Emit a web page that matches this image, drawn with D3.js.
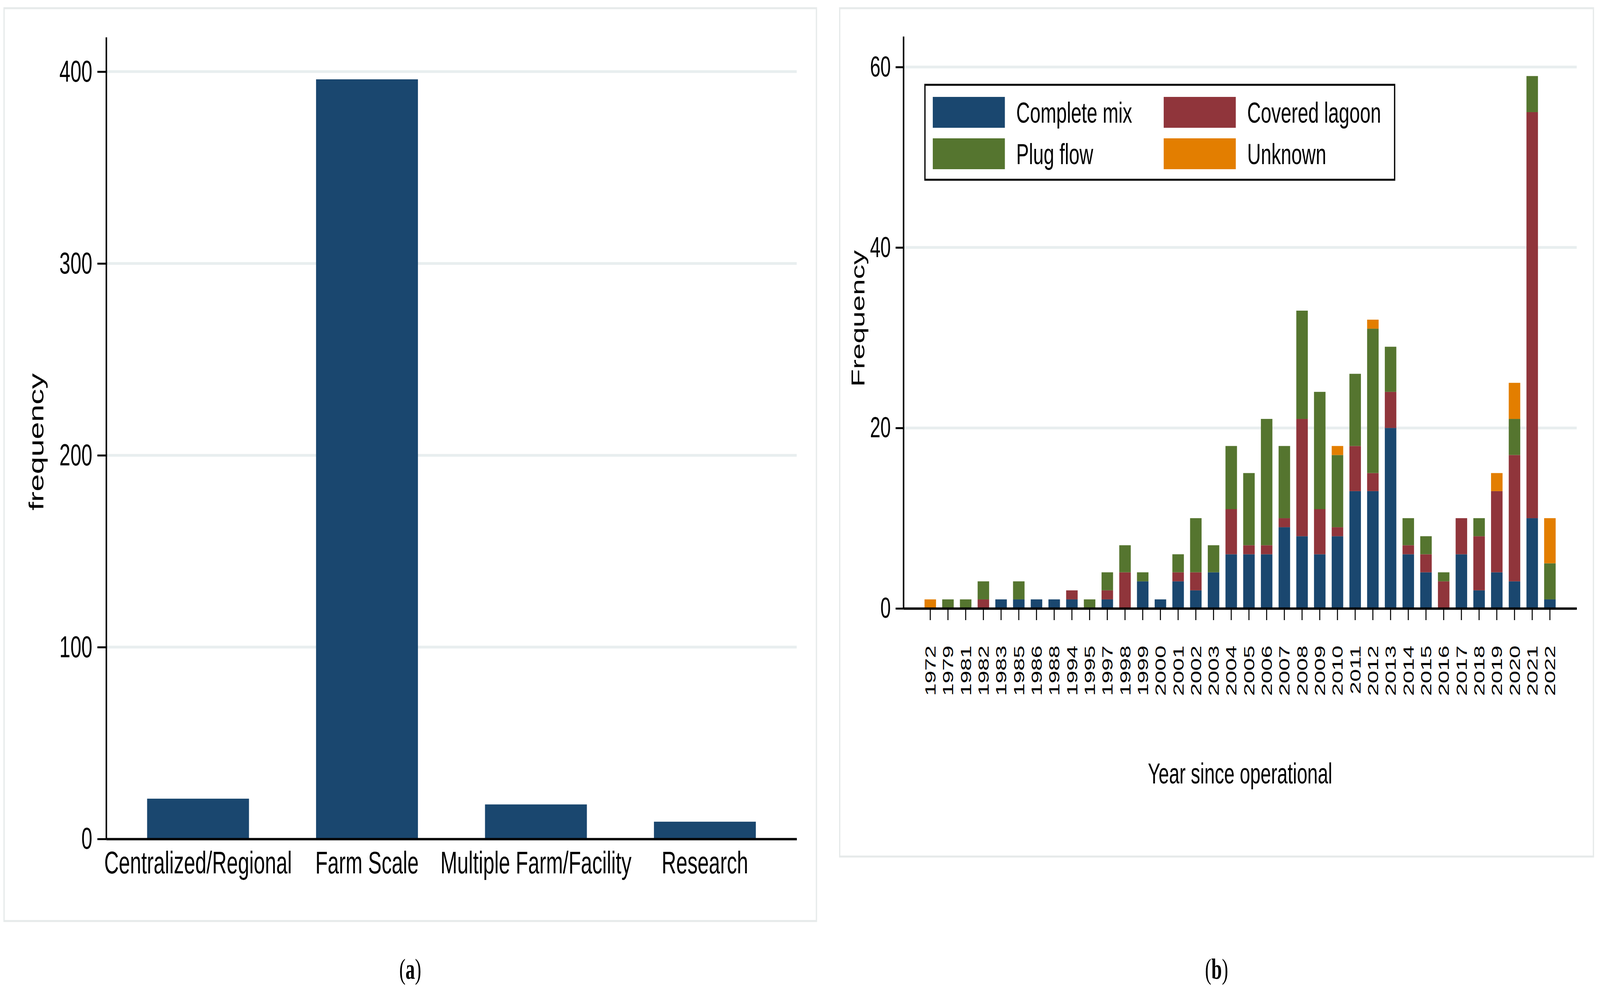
<!DOCTYPE html>
<html lang="en">
<head>
<meta charset="UTF-8">
<title>Digesters by scale and by year</title>
<script src="https://d3js.org/d3.v7.min.js"></script>
<style>
  html, body { margin: 0; padding: 0; background: #fff; overflow: hidden; }
  svg { display: block; }
  text { font-family: "Liberation Sans", Arial, sans-serif; fill: #000; }
</style>
</head>
<body>
<div id="chart"></div>
<script>
// ---- data (a): digesters by scale
var scaleCategories = ["Centralized/Regional", "Farm Scale", "Multiple Farm/Facility", "Research"];
var scaleCounts = [21, 396, 18, 9];
var ticksA = [0, 100, 200, 300, 400];

// ---- data (b): digesters by year since operational, stacked by type
var years = [1972, 1979, 1981, 1982, 1983, 1985, 1986, 1988, 1994, 1995, 1997, 1998, 1999,
  2000, 2001, 2002, 2003, 2004, 2005, 2006, 2007, 2008, 2009, 2010, 2011, 2012, 2013,
  2014, 2015, 2016, 2017, 2018, 2019, 2020, 2021, 2022];
var completeMix   = [0, 0, 0, 0, 1, 1, 1, 1, 1, 0, 1, 0, 3, 1, 3, 2, 4, 6, 6, 6, 9, 8, 6, 8, 13, 13, 20, 6, 4, 0, 6, 2, 4, 3, 10, 1];
var coveredLagoon = [0, 0, 0, 1, 0, 0, 0, 0, 1, 0, 1, 4, 0, 0, 1, 2, 0, 5, 1, 1, 1, 13, 5, 1, 5, 2, 4, 1, 2, 3, 4, 6, 9, 14, 45, 0];
var plugFlow      = [0, 1, 1, 2, 0, 2, 0, 0, 0, 1, 2, 3, 1, 0, 2, 6, 3, 7, 8, 14, 8, 12, 13, 8, 8, 16, 5, 3, 2, 1, 0, 2, 0, 4, 4, 4];
var unknown       = [1, 0, 0, 0, 0, 0, 0, 0, 0, 0, 0, 0, 0, 0, 0, 0, 0, 0, 0, 0, 0, 0, 0, 1, 0, 1, 0, 0, 0, 0, 0, 0, 2, 4, 0, 5];
var seriesNames = ["Complete mix", "Covered lagoon", "Plug flow", "Unknown"];
var ticksB = [0, 20, 40, 60];

// stata s2color
var navy = "#1a476f", maroon = "#90353b", green = "#55752f", orange = "#e37e00";
var seriesColors = [navy, maroon, green, orange];
var gridColor = "#e8eeef";

// drawn in the reference's 6326x2531 frame, then fitted to whatever the window gives
var W = 6326, H = 2531;
var svg = d3.select("#chart").append("svg")
  .attr("width", window.innerWidth).attr("height", window.innerHeight)
  .attr("viewBox", "0 0 " + W + " " + H)
  .attr("preserveAspectRatio", "none");

// outer panel frames
svg.append("rect").attr("x", 16).attr("y", 21).attr("width", 3212).attr("height", 2336)
  .attr("fill", "#fff").attr("stroke", "#e6eaea").attr("stroke-width", 5);
svg.append("rect").attr("x", 3320).attr("y", 21).attr("width", 2980).attr("height", 2171)
  .attr("fill", "#fff").attr("stroke", "#e6eaea").attr("stroke-width", 5);

function styleAxis(g, size) {
  g.attr("font-family", null).attr("font-size", null);
  g.selectAll("text").attr("font-size", size).attr("fill", "#000");
  g.selectAll("line").attr("stroke", "#000").attr("stroke-width", 5);
  g.select(".domain").attr("stroke", "#000").attr("stroke-width", 6);
}

// ================= panel (a) =================
var xA = d3.scaleBand().domain(scaleCategories).range([420, 3150])
  .paddingInner(0.397).paddingOuter(0.242);
var yA = d3.scaleLinear().domain([0, 418]).range([2147, 95]);

var pa = svg.append("g");

pa.append("g").selectAll("line").data(ticksA.filter(function (d) { return d > 0; }))
  .join("line")
  .attr("x1", 420).attr("x2", 3150)
  .attr("y1", function (d) { return yA(d); }).attr("y2", function (d) { return yA(d); })
  .attr("stroke", gridColor).attr("stroke-width", 7);

pa.append("g").selectAll("rect").data(scaleCounts)
  .join("rect")
  .attr("x", function (d, i) { return xA(scaleCategories[i]); })
  .attr("width", xA.bandwidth())
  .attr("y", function (d) { return yA(d); })
  .attr("height", function (d) { return yA(0) - yA(d); })
  .attr("fill", navy);

pa.append("g").attr("transform", "translate(420,0)")
  .call(d3.axisLeft(yA).tickValues(ticksA).tickSize(35).tickPadding(20).tickSizeOuter(0))
  .call(styleAxis, 78);

pa.append("g").attr("transform", "translate(0,2147)")
  .call(d3.axisBottom(xA).tickSize(0).tickPadding(31).tickSizeOuter(0))
  .call(styleAxis, 80);

pa.append("text")
  .attr("transform", "translate(172,1131) rotate(-90)")
  .attr("text-anchor", "middle").attr("font-size", 80)
  .text("frequency");

// ================= panel (b) =================
var table = years.map(function (y, i) {
  return { year: y, "Complete mix": completeMix[i], "Covered lagoon": coveredLagoon[i],
           "Plug flow": plugFlow[i], "Unknown": unknown[i] };
});
var stacked = d3.stack().keys(seriesNames)(table);

var xB = d3.scaleBand().domain(years).range([3572, 6234])
  .paddingInner(0.35).paddingOuter(1.19);
var yB = d3.scaleLinear().domain([0, 63.4]).range([1557, 93]);
var colorB = d3.scaleOrdinal().domain(seriesNames).range(seriesColors);

var pb = svg.append("g");

pb.append("g").selectAll("line").data(ticksB.filter(function (d) { return d > 0; }))
  .join("line")
  .attr("x1", 3572).attr("x2", 6234)
  .attr("y1", function (d) { return yB(d); }).attr("y2", function (d) { return yB(d); })
  .attr("stroke", gridColor).attr("stroke-width", 7);

pb.append("g").selectAll("g").data(stacked)
  .join("g")
  .attr("fill", function (s) { return colorB(s.key); })
  .selectAll("rect").data(function (s) { return s; })
  .join("rect")
  .attr("x", function (d) { return xB(d.data.year); })
  .attr("width", xB.bandwidth())
  .attr("y", function (d) { return yB(d[1]); })
  .attr("height", function (d) { return yB(d[0]) - yB(d[1]); });

pb.append("g").attr("transform", "translate(3572,0)")
  .call(d3.axisLeft(yB).tickValues(ticksB).tickSize(31).tickPadding(19).tickSizeOuter(0))
  .call(styleAxis, 74);

var xAxisB = pb.append("g").attr("transform", "translate(0,1557)")
  .call(d3.axisBottom(xB).tickSize(30).tickSizeOuter(0))
  .call(styleAxis, 58);
xAxisB.selectAll(".tick line").attr("stroke-width", 4);
xAxisB.selectAll("text")
  .attr("transform", "rotate(-90)")
  .attr("text-anchor", "end")
  .attr("x", -95).attr("y", 0).attr("dy", "0.36em");

pb.append("text")
  .attr("transform", "translate(3418,815) rotate(-90)")
  .attr("text-anchor", "middle").attr("font-size", 74)
  .text("Frequency");

pb.append("text")
  .attr("x", 4903).attr("y", 2005)
  .attr("text-anchor", "middle").attr("font-size", 74)
  .text("Year since operational");

// legend
var legend = pb.append("g");
legend.append("rect").attr("x", 3657).attr("y", 217).attr("width", 1857).attr("height", 243)
  .attr("fill", "#fff").attr("stroke", "#000").attr("stroke-width", 5);
var legendCols = [3688, 4601], legendRows = [248, 354];
var items = legend.selectAll("g.item").data(seriesNames).join("g").attr("class", "item")
  .attr("transform", function (d, i) {
    return "translate(" + legendCols[i % 2] + "," + legendRows[Math.floor(i / 2)] + ")";
  });
items.append("rect").attr("width", 285).attr("height", 79)
  .attr("fill", function (d) { return colorB(d); });
items.append("text").attr("x", 330).attr("y", 66).attr("font-size", 75)
  .text(function (d) { return d; });

// panel captions
[["a", 1622], ["b", 4810]].forEach(function (c) {
  var t = svg.append("text").attr("x", c[1]).attr("y", 2505)
    .attr("text-anchor", "middle").attr("font-size", 75)
    .style("font-family", "'Liberation Serif', 'Times New Roman', serif");
  t.append("tspan").text("(");
  t.append("tspan").attr("font-weight", "bold").text(c[0]);
  t.append("tspan").text(")");
});
</script>
</body>
</html>
